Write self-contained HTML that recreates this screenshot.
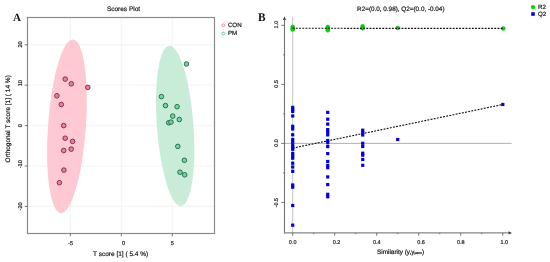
<!DOCTYPE html>
<html><head><meta charset="utf-8"><style>
html,body{margin:0;padding:0;background:#fff;}
body{width:550px;height:262px;overflow:hidden;}
svg{display:block;will-change:transform;}
svg text{stroke:#222;stroke-width:0.2px;text-rendering:geometricPrecision;}
svg text.L{stroke:none;}
</style></head><body>
<svg width="550" height="262" viewBox="0 0 550 262">
<rect width="550" height="262" fill="#fff"/>
<g stroke="#f0f0f0" stroke-width="0.8"><line x1="70.30" y1="17.5" x2="70.30" y2="233.5"/><line x1="121.30" y1="17.5" x2="121.30" y2="233.5"/><line x1="172.30" y1="17.5" x2="172.30" y2="233.5"/><line x1="27.5" y1="44.80" x2="214.5" y2="44.80"/><line x1="27.5" y1="85.20" x2="214.5" y2="85.20"/><line x1="27.5" y1="125.60" x2="214.5" y2="125.60"/><line x1="27.5" y1="166.00" x2="214.5" y2="166.00"/><line x1="27.5" y1="206.40" x2="214.5" y2="206.40"/></g>
<ellipse cx="66.95" cy="126.27" rx="18.95" ry="87.08" transform="rotate(4.06 66.95 126.27)" fill="#ffc9d4"/>
<ellipse cx="175.17" cy="125.81" rx="18.28" ry="80.37" transform="rotate(-4.25 175.17 125.81)" fill="#c9ecd9"/>
<g fill="#f27aa2" stroke="#6b2c42" stroke-width="0.9"><circle cx="65.2" cy="79.1" r="2.3"/><circle cx="71.3" cy="83.8" r="2.3"/><circle cx="87.8" cy="87.4" r="2.3"/><circle cx="56.9" cy="95.8" r="2.3"/><circle cx="61.3" cy="104.5" r="2.3"/><circle cx="63.7" cy="125.6" r="2.3"/><circle cx="65.2" cy="138.2" r="2.3"/><circle cx="72.6" cy="141.4" r="2.3"/><circle cx="63.7" cy="150.5" r="2.3"/><circle cx="71.2" cy="149.1" r="2.3"/><circle cx="63.9" cy="170.1" r="2.3"/><circle cx="59.4" cy="182.7" r="2.3"/></g>
<g fill="#6ad9a0" stroke="#26603f" stroke-width="0.9"><circle cx="186.5" cy="64" r="2.3"/><circle cx="161.4" cy="96.6" r="2.3"/><circle cx="165.5" cy="105.6" r="2.3"/><circle cx="177.1" cy="106.7" r="2.3"/><circle cx="172.7" cy="116.1" r="2.3"/><circle cx="179.3" cy="119.5" r="2.3"/><circle cx="168.7" cy="122.8" r="2.3"/><circle cx="171" cy="122.1" r="2.3"/><circle cx="177.8" cy="146.4" r="2.3"/><circle cx="184.4" cy="160.3" r="2.3"/><circle cx="180" cy="172.2" r="2.3"/><circle cx="184.7" cy="174.8" r="2.3"/></g>
<rect x="27.5" y="17.5" width="187" height="216" fill="none" stroke="#8a8a8a" stroke-width="1.2"/>
<g stroke="#555" stroke-width="0.8"><line x1="70.30" y1="233.5" x2="70.30" y2="236.3"/><line x1="121.30" y1="233.5" x2="121.30" y2="236.3"/><line x1="172.30" y1="233.5" x2="172.30" y2="236.3"/><line x1="24.7" y1="44.80" x2="27.5" y2="44.80"/><line x1="24.7" y1="85.20" x2="27.5" y2="85.20"/><line x1="24.7" y1="125.60" x2="27.5" y2="125.60"/><line x1="24.7" y1="166.00" x2="27.5" y2="166.00"/><line x1="24.7" y1="206.40" x2="27.5" y2="206.40"/></g>
<g font-family='"Liberation Sans", sans-serif' font-size="5.6" fill="#222"><text x="70.60" y="244.9" text-anchor="middle">-5</text><text x="123.60" y="244.9" text-anchor="middle">0</text><text x="172.30" y="244.9" text-anchor="middle">5</text><text transform="translate(21.9 44.50) rotate(-90)" text-anchor="middle">20</text><text transform="translate(21.9 83.20) rotate(-90)" text-anchor="middle">10</text><text transform="translate(21.9 125.60) rotate(-90)" text-anchor="middle">0</text><text transform="translate(21.9 164.30) rotate(-90)" text-anchor="middle">-10</text><text transform="translate(21.9 206.40) rotate(-90)" text-anchor="middle">-20</text></g>
<text x="123.5" y="11.3" text-anchor="middle" font-family='"Liberation Sans", sans-serif' font-size="6.5" fill="#111">Scores Plot</text>
<text x="120.6" y="256.2" text-anchor="middle" font-family='"Liberation Sans", sans-serif' font-size="6.5" fill="#111">T score [1] ( 5.4 %)</text>
<text transform="translate(10.2 118.8) rotate(-90)" text-anchor="middle" font-family='"Liberation Sans", sans-serif' font-size="6.5" fill="#111">Orthogonal T score [1] ( 14 %)</text>
<circle cx="223.3" cy="25.3" r="1.35" fill="none" stroke="#f06c8f" stroke-width="0.85"/>
<circle cx="223.3" cy="33.6" r="1.35" fill="none" stroke="#4cc785" stroke-width="0.85"/>
<g font-family='"Liberation Sans", sans-serif' font-size="6.2" fill="#111"><text x="227.9" y="27.0">CON</text><text x="227.9" y="35.1">PM</text></g>
<text class="L" transform="translate(13.1 20.6)" font-family='"Liberation Serif", serif' font-weight="bold" font-size="11.1" fill="#111">A</text>
<text class="L" transform="translate(258.0 20.6) scale(0.96 1)" font-family='"Liberation Serif", serif' font-weight="bold" font-size="11.8" fill="#111">B</text>
<line x1="284.5" y1="143.40" x2="511.6" y2="143.40" stroke="#a8a8a8" stroke-width="0.9"/>
<line x1="292.70" y1="17.3" x2="292.70" y2="233" stroke="#bdbdbd" stroke-width="0.9"/>
<line x1="284.5" y1="19" x2="284.5" y2="233.5" stroke="#747474" stroke-width="1.1"/>
<path d="M284.5 16.6 L282.8 20.2 L284.5 19.6 L286.2 20.2 Z" fill="#333"/>
<line x1="284" y1="232.9" x2="509.5" y2="232.9" stroke="#858585" stroke-width="1.2"/>
<path d="M512 232.9 L508.3 231.2 L508.9 232.9 L508.3 234.6 Z" fill="#333"/>
<g stroke="#555" stroke-width="0.8"><line x1="292.70" y1="232.9" x2="292.70" y2="235.8"/><line x1="334.72" y1="232.9" x2="334.72" y2="235.8"/><line x1="376.74" y1="232.9" x2="376.74" y2="235.8"/><line x1="418.76" y1="232.9" x2="418.76" y2="235.8"/><line x1="460.78" y1="232.9" x2="460.78" y2="235.8"/><line x1="502.80" y1="232.9" x2="502.80" y2="235.8"/><line x1="313.71" y1="232.9" x2="313.71" y2="234.2"/><line x1="355.73" y1="232.9" x2="355.73" y2="234.2"/><line x1="397.75" y1="232.9" x2="397.75" y2="234.2"/><line x1="439.77" y1="232.9" x2="439.77" y2="234.2"/><line x1="481.79" y1="232.9" x2="481.79" y2="234.2"/><line x1="281.2" y1="25.30" x2="284.5" y2="25.30"/><line x1="281.2" y1="84.35" x2="284.5" y2="84.35"/><line x1="281.2" y1="143.40" x2="284.5" y2="143.40"/><line x1="281.2" y1="202.45" x2="284.5" y2="202.45"/><line x1="283.2" y1="54.83" x2="284.5" y2="54.83"/><line x1="283.2" y1="113.88" x2="284.5" y2="113.88"/><line x1="283.2" y1="172.93" x2="284.5" y2="172.93"/></g>
<g font-family='"Liberation Sans", sans-serif' font-size="5.5" fill="#222"><text x="292.70" y="244.2" text-anchor="middle">0.0</text><text x="336.62" y="244.2" text-anchor="middle">0.2</text><text x="376.74" y="244.2" text-anchor="middle">0.4</text><text x="420.96" y="244.2" text-anchor="middle">0.6</text><text x="460.78" y="244.2" text-anchor="middle">0.8</text><text x="504.30" y="244.2" text-anchor="middle">1.0</text><text transform="translate(278.2 24.60) rotate(-90)" text-anchor="middle">1.0</text><text transform="translate(278.2 83.85) rotate(-90)" text-anchor="middle">0.5</text><text transform="translate(278.2 142.90) rotate(-90)" text-anchor="middle">0.0</text><text transform="translate(278.2 202.65) rotate(-90)" text-anchor="middle">-0.5</text></g>
<text x="400.8" y="11.2" text-anchor="middle" font-family='"Liberation Sans", sans-serif' font-size="6.35" fill="#111">R2=(0.0, 0.98), Q2=(0.0, -0.04)</text>
<text x="377" y="253.6" font-family='"Liberation Sans", sans-serif' font-size="6.4" fill="#111">Similarity (y,y<tspan font-size="3.3" dy="-0.1">perm</tspan><tspan dy="0.1">)</tspan></text>
<circle cx="533" cy="7.1" r="2.2" fill="#00e000"/>
<rect x="531.2" y="12.2" width="3.6" height="3.6" fill="#0000dd"/>
<g font-family='"Liberation Sans", sans-serif' font-size="6.2" fill="#111"><text x="538" y="9.3">R2</text><text x="538" y="16.3">Q2</text></g>
<line x1="292.70" y1="148.1" x2="502.8" y2="104.5" stroke="#111" stroke-width="1.15" stroke-dasharray="1.9 1.3"/>
<g fill="#0000dd"><rect x="291.10" y="105.80" width="3.2" height="3.2"/><rect x="291.10" y="107.80" width="3.2" height="3.2"/><rect x="291.10" y="109.80" width="3.2" height="3.2"/><rect x="291.10" y="114.40" width="3.2" height="3.2"/><rect x="291.10" y="124.70" width="3.2" height="3.2"/><rect x="291.10" y="127.40" width="3.2" height="3.2"/><rect x="291.10" y="133.20" width="3.2" height="3.2"/><rect x="291.10" y="137.90" width="3.2" height="3.2"/><rect x="291.10" y="140.60" width="3.2" height="3.2"/><rect x="291.10" y="143.40" width="3.2" height="3.2"/><rect x="291.10" y="145.60" width="3.2" height="3.2"/><rect x="291.10" y="147.70" width="3.2" height="3.2"/><rect x="291.10" y="151.80" width="3.2" height="3.2"/><rect x="291.10" y="154.20" width="3.2" height="3.2"/><rect x="291.10" y="156.60" width="3.2" height="3.2"/><rect x="291.10" y="161.60" width="3.2" height="3.2"/><rect x="291.10" y="165.40" width="3.2" height="3.2"/><rect x="291.10" y="169.70" width="3.2" height="3.2"/><rect x="291.10" y="183.40" width="3.2" height="3.2"/><rect x="291.10" y="185.60" width="3.2" height="3.2"/><rect x="291.10" y="203.90" width="3.2" height="3.2"/><rect x="291.10" y="223.60" width="3.2" height="3.2"/><rect x="326.12" y="110.80" width="3.2" height="3.2"/><rect x="326.12" y="117.60" width="3.2" height="3.2"/><rect x="326.12" y="122.50" width="3.2" height="3.2"/><rect x="326.12" y="128.00" width="3.2" height="3.2"/><rect x="326.12" y="130.60" width="3.2" height="3.2"/><rect x="326.12" y="133.30" width="3.2" height="3.2"/><rect x="326.12" y="138.90" width="3.2" height="3.2"/><rect x="326.12" y="141.20" width="3.2" height="3.2"/><rect x="326.12" y="145.00" width="3.2" height="3.2"/><rect x="326.12" y="152.00" width="3.2" height="3.2"/><rect x="326.12" y="159.90" width="3.2" height="3.2"/><rect x="326.12" y="163.90" width="3.2" height="3.2"/><rect x="326.12" y="166.10" width="3.2" height="3.2"/><rect x="326.12" y="175.30" width="3.2" height="3.2"/><rect x="326.12" y="183.00" width="3.2" height="3.2"/><rect x="326.12" y="192.70" width="3.2" height="3.2"/><rect x="326.12" y="195.20" width="3.2" height="3.2"/><rect x="361.13" y="128.60" width="3.2" height="3.2"/><rect x="361.13" y="131.00" width="3.2" height="3.2"/><rect x="361.13" y="133.40" width="3.2" height="3.2"/><rect x="361.13" y="141.70" width="3.2" height="3.2"/><rect x="361.13" y="144.90" width="3.2" height="3.2"/><rect x="361.13" y="151.60" width="3.2" height="3.2"/><rect x="361.13" y="153.60" width="3.2" height="3.2"/><rect x="361.13" y="157.90" width="3.2" height="3.2"/><rect x="361.13" y="163.70" width="3.2" height="3.2"/><rect x="396.10" y="137.90" width="3.2" height="3.2"/><rect x="501.20" y="102.90" width="3.2" height="3.2"/></g>
<g fill="#00dd00" stroke="#119911" stroke-width="0.4"><circle cx="292.70" cy="27" r="2"/><circle cx="292.70" cy="28.4" r="2"/><circle cx="292.70" cy="29.5" r="2"/><circle cx="327.80" cy="27" r="2"/><circle cx="327.80" cy="28.6" r="2"/><circle cx="327.80" cy="30.3" r="2"/><circle cx="362.60" cy="26.3" r="2"/><circle cx="362.60" cy="28.3" r="2"/><circle cx="397.80" cy="28.1" r="2"/><circle cx="503.30" cy="28.5" r="2"/></g>
<line x1="292.70" y1="28.3" x2="503.3" y2="28.4" stroke="#111" stroke-width="1.1" stroke-dasharray="1.9 1.3"/>
</svg>
</body></html>
